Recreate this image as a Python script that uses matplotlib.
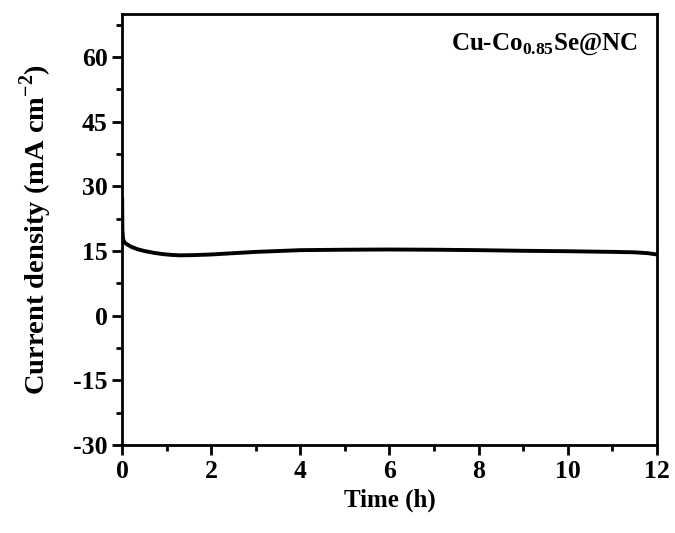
import matplotlib.pyplot as plt

plt.rcParams['font.family'] = ['Liberation Serif', 'DejaVu Serif']
plt.rcParams['font.weight'] = 'bold'
plt.rcParams['axes.unicode_minus'] = False
plt.rcParams['mathtext.fontset'] = 'custom'
plt.rcParams['mathtext.rm'] = 'Liberation Serif:bold'
plt.rcParams['mathtext.bf'] = 'Liberation Serif:bold'

# Données
time_h = [0.0, 0.005, 0.02, 0.05, 0.1, 0.2, 0.35, 0.5, 0.7, 0.9, 1.1, 1.3, 1.6, 2.0,
          2.5, 3.0, 3.5, 4.0, 5.0, 6.0, 7.0, 8.0, 9.0, 10.0, 11.0, 11.5, 11.8, 12.0]
current = [27.0, 20.0, 17.8, 17.0, 16.6, 16.0, 15.4, 15.0, 14.6, 14.3, 14.1, 14.0, 14.05, 14.2,
           14.5, 14.8, 15.0, 15.2, 15.3, 15.35, 15.3, 15.2, 15.05, 14.95, 14.8, 14.7, 14.5, 14.2]

fig, ax = plt.subplots(figsize=(6.75, 5.33), dpi=100)
fig.subplots_adjust(left=0.181, right=0.973, top=0.974, bottom=0.165)

ax.plot(time_h, current, color='black', lw=2.8)

ax.set_xlim(0, 12)
ax.set_ylim(-30, 70)
ax.set_xticks(range(0, 13, 2))
ax.set_xticks(range(1, 12, 2), minor=True)
ax.set_yticks(range(-30, 61, 15))
ax.set_yticks([-22.5, -7.5, 7.5, 22.5, 37.5, 52.5, 67.5], minor=True)

for s in ax.spines.values():
    s.set_linewidth(2)
ax.tick_params(which='major', direction='out', length=7, width=2, labelsize=18.5)
ax.tick_params(which='minor', direction='out', length=4, width=2)

ax.set_xlabel('Time (h)', fontsize=18, fontweight='bold', labelpad=4)
ax.set_ylabel(r'Current density (mA cm$^{\mathbf{-2}}$)', fontsize=20.5, fontweight='bold', labelpad=14)

ax.text(0.965, 0.93, r'Cu-Co$_{\mathbf{0.85}}$Se@NC', transform=ax.transAxes,
        ha='right', va='center', fontsize=18, fontweight='bold')

fig.savefig('out.png', dpi=100)
